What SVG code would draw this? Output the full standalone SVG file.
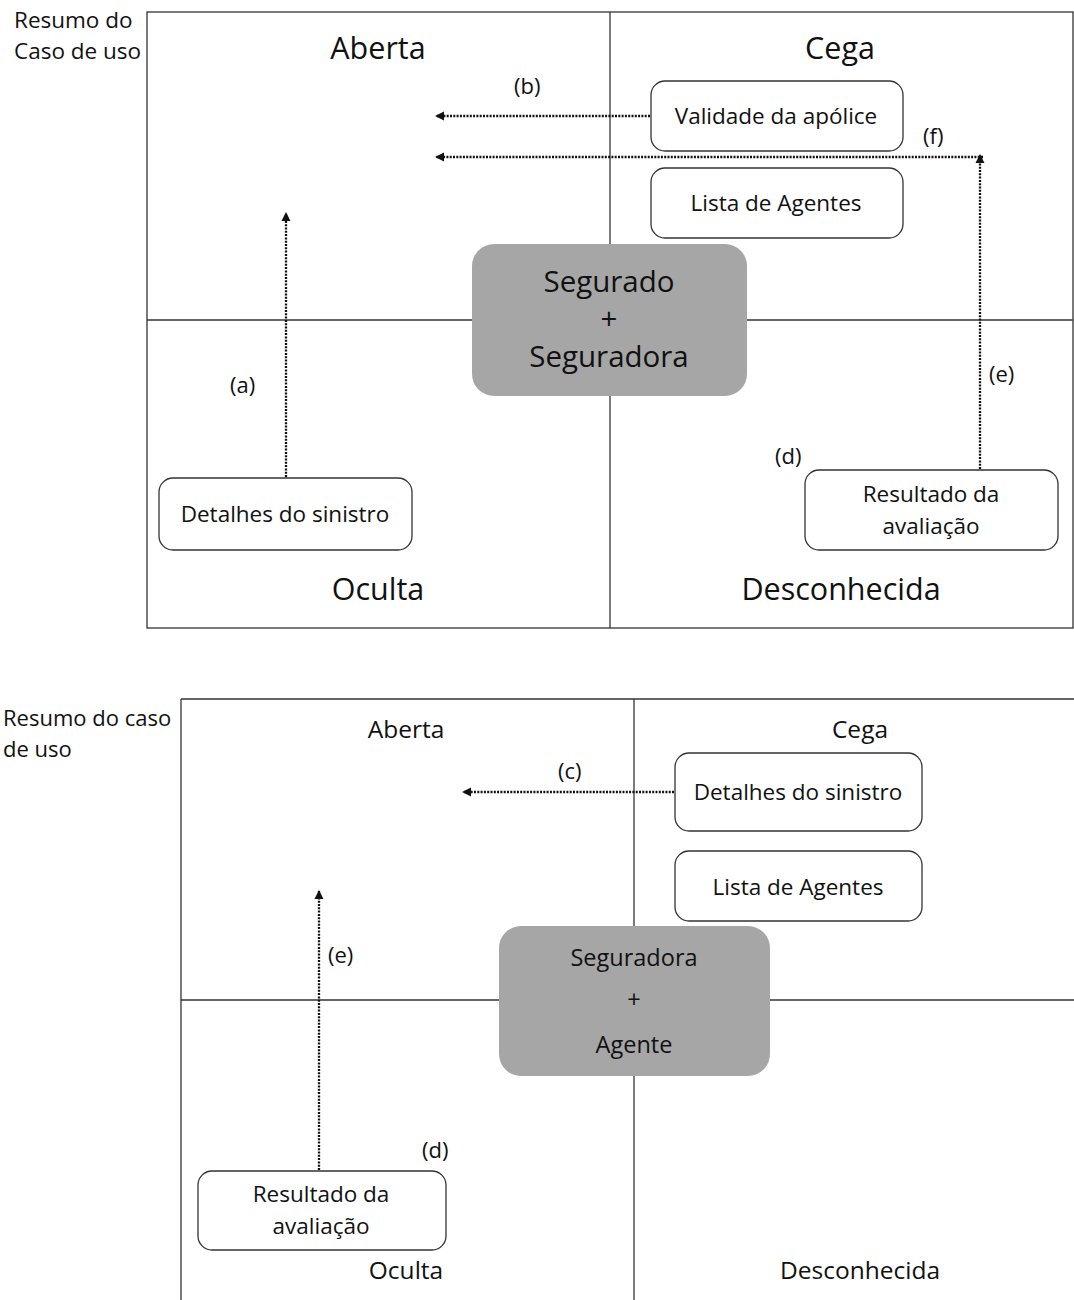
<svg xmlns="http://www.w3.org/2000/svg" width="1074" height="1300" viewBox="0 0 1074 1300">
<style>
text{font-family:"Open Sans",Lato,"Liberation Sans",sans-serif;fill:#111}
.q{font-size:30.5px;text-anchor:middle}
.q2{font-size:24.5px;text-anchor:middle}
.lbl{font-size:22px}
.t{font-size:22.5px;text-anchor:middle}
.grid{stroke:#333;stroke-width:1.3;fill:none}
.box{fill:#fff;stroke:#333;stroke-width:1.3}
.gray{fill:#a6a6a6;stroke:none}
.c{stroke:#111;stroke-width:2.3;stroke-dasharray:2 1.3;fill:none}
</style>
<defs>
<marker id="ah" viewBox="0 0 10 10" refX="9" refY="5" markerWidth="4" markerHeight="4" orient="auto" markerUnits="strokeWidth">
<path d="M0,0 L10,5 L0,10 z" fill="#111"/>
</marker>
</defs>
<rect width="1074" height="1300" fill="#fff"/>

<!-- Upper diagram grid -->
<g id="grid1">
<rect class="grid" x="147" y="12" width="926" height="616"/>
<line class="grid" x1="610" y1="12" x2="610" y2="628"/>
<line class="grid" x1="147" y1="320" x2="1073" y2="320"/>
<text class="lbl" x="14" y="28" style="font-size:22.5px">Resumo do</text>
<text class="lbl" x="14" y="59" style="font-size:22.5px">Caso de uso</text>
<text class="q" x="378" y="59">Aberta</text>
<text class="q" x="840" y="59">Cega</text>
<text class="q" x="378" y="600">Oculta</text>
<text class="q" x="841" y="600">Desconhecida</text>
</g>

<g id="validade1"><rect class="box" x="651" y="81" width="252" height="70" rx="14"/><text class="t" x="776" y="124">Validade da apólice</text></g>
<g id="lista1"><rect class="box" x="651" y="168" width="252" height="70" rx="14"/><text class="t" x="776" y="211">Lista de Agentes</text></g>
<g id="central1"><rect class="gray" x="472" y="244" width="275" height="152" rx="22"/>
<text class="t" style="font-size:29.5px" x="609" y="292">Segurado</text>
<text class="t" style="font-size:29.5px" x="609" y="329">+</text>
<text class="t" style="font-size:29.5px" x="609" y="367">Seguradora</text></g>
<g id="detalhes1"><rect class="box" x="159" y="478" width="253" height="72" rx="14"/><text class="t" x="285" y="522">Detalhes do sinistro</text></g>
<g id="resultado1"><rect class="box" x="805" y="470" width="253" height="80" rx="14"/><text class="t" x="931" y="502">Resultado da</text><text class="t" x="931" y="534">avaliação</text></g>

<!-- Lower diagram grid -->
<g id="grid2">
<line class="grid" x1="181" y1="699" x2="1074" y2="699"/>
<line class="grid" x1="181" y1="699" x2="181" y2="1300"/>
<line class="grid" x1="634" y1="699" x2="634" y2="1300"/>
<line class="grid" x1="181" y1="1000" x2="1074" y2="1000"/>
<text class="lbl" x="3" y="726">Resumo do caso</text>
<text class="lbl" x="3" y="757">de uso</text>
<text class="q2" x="406" y="738">Aberta</text>
<text class="q2" x="860" y="738">Cega</text>
<text class="q2" x="406" y="1279">Oculta</text>
<text class="q2" x="860" y="1279">Desconhecida</text>
</g>

<g id="detalhes2"><rect class="box" x="675" y="753" width="247" height="78" rx="14"/><text class="t" x="798" y="800">Detalhes do sinistro</text></g>
<g id="lista2"><rect class="box" x="675" y="851" width="247" height="70" rx="14"/><text class="t" x="798" y="895">Lista de Agentes</text></g>
<g id="central2"><rect class="gray" x="499" y="926" width="271" height="150" rx="22"/>
<text class="t" style="font-size:23.5px" x="634" y="966">Seguradora</text>
<text class="t" style="font-size:23.5px" x="634" y="1008">+</text>
<text class="t" style="font-size:23.5px" x="634" y="1053">Agente</text></g>
<g id="resultado2"><rect class="box" x="198" y="1171" width="248" height="79" rx="14"/><text class="t" x="321" y="1202">Resultado da</text><text class="t" x="321" y="1234">avaliação</text></g>

<!-- Connectors -->
<g id="connectors">
<line class="c" x1="286" y1="477" x2="286" y2="213" marker-end="url(#ah)"/>
<line class="c" x1="650" y1="116" x2="436" y2="116" marker-end="url(#ah)"/>
<line class="c" x1="980" y1="469" x2="980" y2="155" marker-end="url(#ah)"/>
<line class="c" x1="983" y1="157" x2="436" y2="157" marker-end="url(#ah)"/>
<line class="c" x1="674" y1="792" x2="463" y2="792" marker-end="url(#ah)"/>
<line class="c" x1="319" y1="1170" x2="319" y2="891" marker-end="url(#ah)"/>
<text class="lbl" x="230" y="393">(a)</text>
<text class="lbl" x="514" y="94">(b)</text>
<text class="lbl" x="923" y="144">(f)</text>
<text class="lbl" x="989" y="382">(e)</text>
<text class="lbl" x="775" y="464">(d)</text>
<text class="lbl" x="558" y="779">(c)</text>
<text class="lbl" x="328" y="963">(e)</text>
<text class="lbl" x="422" y="1158">(d)</text>
</g>
</svg>
